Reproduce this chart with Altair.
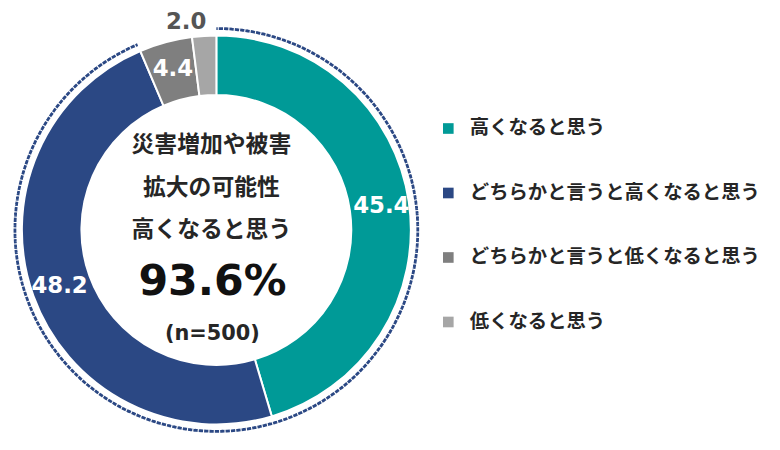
import math
import altair as alt
import pandas as pd

# ---- data ----
categories = ["高くなると思う", "どちらかと言うと高くなると思う",
              "どちらかと言うと低くなると思う", "低くなると思う"]
values = [45.4, 48.2, 4.4, 2.0]
value_labels = ["45.4", "48.2", "4.4", "2.0"]
colors = ["#009a97", "#2b4884", "#7f7f7f", "#a6a6a6"]
center_lines = ["災害増加や被害", "拡大の可能性", "高くなると思う"]
n_label = "(n=500)"

# ---- layout / style ----
CX, CY = 210, 222
R_OUT, R_IN = 196, 136
R_DOT = 203
R_LABEL = 168

df = pd.DataFrame({"cat": categories, "value": values,
                   "label": value_labels, "idx": list(range(len(values)))})

base = alt.Chart(df).encode(
    theta=alt.Theta("value:Q", stack=True),
    order=alt.Order("idx:Q", sort="ascending"),
    x=alt.value(CX), y=alt.value(CY),
)

arcs = base.mark_arc(innerRadius=R_IN, outerRadius=R_OUT, stroke="white",
                     strokeWidth=2).encode(
    color=alt.Color("cat:N", scale=alt.Scale(domain=categories, range=colors),
                    legend=alt.Legend(title=None, orient="none", legendX=434, legendY=110,
                                      symbolType="square", symbolSize=115,
                                      symbolStrokeWidth=0,
                                      labelFont="Noto Sans CJK JP", labelFontSize=19.5,
                                      labelFontWeight="bold", labelColor="#262626",
                                      rowPadding=44, labelOffset=12, padding=0,
                                      labelLimit=400))
)

inner_labels = base.mark_text(radius=R_LABEL, font="DejaVu Sans", fontSize=23,
                              fontWeight="bold", fill="white").encode(
    text="label:N",
    opacity=alt.condition(alt.datum.idx < 3, alt.value(1), alt.value(0)),
)

outer_labels = base.mark_text(radius=214, dx=-17, dy=4, font="DejaVu Sans", fontSize=23,
                              fontWeight="bold", fill="#555555").encode(
    text="label:N",
    opacity=alt.condition(alt.datum.idx == 3, alt.value(1), alt.value(0)),
)

# dotted outline around the "high" share (first two categories)
frac_high = (values[0] + values[1]) / sum(values)
t2 = 2 * math.pi * frac_high
L = R_DOT * t2
k = round(L / 5.4)
p = L / k
DOT = 2.8
dotted = alt.Chart(pd.DataFrame({"a": [0]})).mark_arc(
    theta=0, theta2=t2, outerRadius=R_DOT, innerRadius=R_DOT,
    fill="white", fillOpacity=0, stroke="#2b4884", strokeWidth=2.8,
    strokeCap="butt", strokeDash=[DOT, p - DOT], strokeDashOffset=DOT / 2,
).encode(x=alt.value(CX), y=alt.value(CY))

center_layers = []
for line, yy in zip(center_lines, [136, 180, 222]):
    center_layers.append(
        alt.Chart(pd.DataFrame({"t": [line]})).mark_text(
            font="Noto Sans CJK JP", fontSize=23, fontWeight="bold", fill="#262626",
            baseline="middle").encode(text="t:N", x=alt.value(CX - 5), y=alt.value(yy))
    )

pct_text = f"{values[0] + values[1]:.1f}%"
center_layers.append(
    alt.Chart(pd.DataFrame({"t": [pct_text]})).mark_text(
        font="DejaVu Sans", fontSize=43, fontWeight="bold", fill="#111111",
        baseline="middle").encode(text="t:N", x=alt.value(CX - 4), y=alt.value(275))
)
center_layers.append(
    alt.Chart(pd.DataFrame({"t": [n_label]})).mark_text(
        font="DejaVu Sans", fontSize=21, fontWeight="bold", fill="#262626",
        baseline="middle").encode(text="t:N", x=alt.value(CX - 4), y=alt.value(327))
)

chart = alt.layer(dotted, arcs, inner_labels, outer_labels, *center_layers).properties(
    width=770, height=432, padding=0,
    autosize=alt.AutoSizeParams(type="none"),
).configure_view(strokeWidth=0)

chart.save("out.html", embed_options={"renderer": "svg", "actions": False})
